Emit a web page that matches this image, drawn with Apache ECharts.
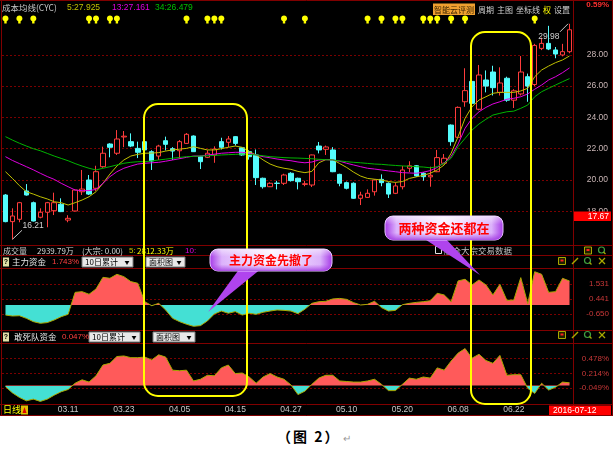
<!DOCTYPE html>
<html>
<head>
<meta charset="utf-8">
<script src="https://cdn.jsdelivr.net/npm/echarts@6/dist/echarts.min.js"></script>
<style>
html,body{margin:0;padding:0;background:#fff;overflow:hidden;}
#chart{position:absolute;left:0;top:0;width:613px;height:416px;}
#cap{position:absolute;left:277px;top:426px;height:16px;line-height:16px;font:bold 14px "Noto Sans CJK SC",sans-serif;color:#000;letter-spacing:2px;white-space:nowrap;}
#cap span{font-weight:normal;color:#999;font-size:10px;margin-left:3px;letter-spacing:0;}
</style>
</head>
<body>
<div id="chart"></div>
<div id="cap">（图 2）<span>↵</span></div>
<script>
// ---------------- data ----------------
const openP  = [19.04,17.34,17.49,19.30,18.55,17.62,17.94,18.04,18.45,17.44, 18.02,19.25,20.00,19.47,20.85,22.30,21.71,22.75,22.45,22.02, 22.45,21.81,21.53,22.51,22.00,21.87,22.34,22.81,21.49,21.45, 21.60,22.45,22.41,22.77,22.06,21.81,21.60,20.11,19.57,19.80, 19.79,20.43,20.11,19.72,19.68,22.17,21.96,21.92,20.36,19.83, 19.79,18.83,18.89,19.25,20.04,19.79,19.15,19.57,20.75,20.91, 20.43,20.20,20.53,21.07,23.51,22.73,25.00,26.30,24.52,26.39, 26.90,25.60,26.50,25.10,25.50,26.60,26.10,28.41,28.73,28.31, 27.99,28.20];
const closeP = [17.34,17.70,18.55,19.04,17.38,17.94,18.55,18.55,17.98,17.55, 19.36,19.42,19.10,20.53,21.71,22.09,22.62,22.80,22.17,21.77, 21.92,21.21,22.17,22.28,21.85,22.45,22.92,21.81,21.17,21.71, 21.98,22.09,22.62,22.34,21.60,21.49,20.15,19.57,19.79,19.78, 20.32,19.96,19.89,19.76,21.60,21.92,22.11,20.53,19.79,19.47, 18.83,19.04,19.15,20.00,19.83,19.10,19.62,20.64,20.91,20.26, 20.21,20.30,21.43,21.39,22.45,24.64,25.71,24.90,26.71,26.00, 25.90,26.20,25.10,25.70,26.90,26.00,28.60,28.73,28.37,28.05, 28.20,29.60];
const lowP   = [17.30,16.21,17.30,19.00,17.35,17.55,16.98,17.76,17.95,17.30, 18.00,19.04,19.04,19.30,20.78,21.45,21.60,22.10,22.10,21.40, 21.85,20.64,21.28,21.89,21.28,21.36,22.30,21.80,20.70,21.40, 21.10,21.95,22.10,22.20,21.55,21.30,19.68,19.45,19.55,19.40, 19.68,19.90,19.40,19.60,19.55,21.70,21.60,20.50,19.60,19.40, 18.80,18.40,18.85,19.00,19.60,18.85,19.10,19.40,20.50,20.20, 19.95,19.57,20.50,21.00,22.19,22.70,24.68,24.70,24.45,25.60, 25.40,25.40,25.00,24.60,25.40,25.00,26.00,28.30,28.30,27.78, 27.90,28.10];
const highP  = [19.10,18.19,18.60,19.74,18.62,18.19,18.60,19.19,18.83,17.75, 19.40,20.64,20.32,20.91,22.13,22.35,23.19,23.13,22.98,22.45, 22.50,21.90,22.25,22.77,22.10,22.55,23.00,22.85,21.55,21.90, 22.15,22.70,22.81,22.80,22.10,21.90,21.95,20.15,19.85,19.95, 20.40,20.50,20.15,19.95,21.62,22.43,22.20,22.10,20.40,19.90, 19.85,19.25,19.40,20.05,20.36,19.85,19.85,20.90,21.20,20.95, 20.50,20.85,21.92,21.66,23.55,24.70,27.14,26.50,27.35,27.00, 27.30,27.20,26.60,25.80,27.92,26.80,28.70,29.10,29.85,28.50, 28.70,29.98];
const cost5  = [20.53,20.10,19.64,19.25,19.10,18.93,18.79,18.61,18.55,18.40, 18.55,18.72,18.93,19.25,19.79,20.38,20.89,21.28,21.53,21.64, 21.71,21.72,21.75,21.85,21.92,21.97,22.02,22.13,22.02,21.92, 21.92,22.00,22.09,22.17,22.09,21.81,21.60,21.28,21.02,20.85, 20.75,20.68,20.55,20.47,20.55,21.10,21.30,21.30,21.05,20.80, 20.50,20.25,20.10,20.05,20.00,19.90,19.85,19.90,20.10,20.20, 20.30,20.43,20.64,20.96,21.71,22.77,23.94,24.68,25.11,25.32, 25.54,25.60,25.60,25.60,25.69,25.86,26.60,27.03,27.28,27.50, 27.67,27.925];
const cost13 = [21.49,21.25,21.05,20.85,20.65,20.43,20.22,20.04,19.79,19.57, 19.36,19.32,19.32,19.40,19.79,20.21,20.53,20.75,20.89,21.02, 21.07,21.10,21.13,21.20,21.28,21.36,21.45,21.53,21.53,21.60, 21.65,21.71,21.74,21.77,21.77,21.71,21.60,21.49,21.42,21.34, 21.28,21.23,21.15,21.10,21.15,21.28,21.30,21.28,21.20,21.07, 20.96,20.85,20.75,20.70,20.64,20.58,20.53,20.47,20.45,20.43, 20.50,20.60,20.80,21.10,21.50,22.30,23.30,23.94,24.36,24.64, 24.86,25.00,25.16,25.22,25.32,25.50,25.80,26.07,26.39,26.60, 26.86,27.161];
const cost34 = [22.77,22.55,22.35,22.17,22.00,21.87,21.70,21.53,21.38,21.23, 21.05,20.89,20.75,20.64,20.75,20.85,20.96,21.07,21.13,21.17, 21.17,21.22,21.28,21.33,21.39,21.44,21.49,21.51,21.53,21.55, 21.57,21.60,21.62,21.64,21.66,21.63,21.60,21.55,21.49,21.46, 21.43,21.41,21.40,21.38,21.36,21.32,21.30,21.28,21.22,21.17, 21.13,21.10,21.06,21.02,21.00,20.96,20.93,20.90,20.88,20.85, 20.83,20.78,20.85,21.07,21.39,22.13,22.66,23.19,23.58,23.88, 24.15,24.26,24.36,24.40,24.58,24.79,25.32,25.64,25.86,26.07, 26.28,26.479];
const mainForce = [-0.73,-0.80,-0.78,-0.97,-1.21,-1.33,-1.28,-1.09,-0.85,-0.68, 0.92,0.97,0.78,1.16,2.01,1.94,2.23,2.06,1.70,1.58, 0.24,-0.05,0.12,-0.36,-0.97,-1.21,-1.40,-1.55,-1.50,-1.16, -0.65,-0.44,-0.60,-0.48,-0.73,-0.60,-0.68,-0.53,-0.44,-0.36, -0.39,-0.44,-0.63,-0.30,0.12,0.24,0.27,0.44,0.48,0.41, 0.17,0.00,0.05,0.27,-0.19,-0.44,-0.39,0.02,0.12,0.19, 0.24,0.31,0.85,0.73,0.24,1.75,1.87,1.46,1.82,1.46, 0.73,1.50,0.34,0.36,1.99,0.10,2.42,2.23,0.92,0.97, 1.94,1.743];
const dareFund = [-0.02,-0.13,-0.21,-0.27,-0.24,-0.28,-0.24,-0.17,-0.11,-0.07, 0.04,0.10,0.06,0.17,0.36,0.39,0.51,0.52,0.49,0.49, 0.50,0.45,0.54,0.50,0.27,0.26,0.27,0.08,0.11,0.18, 0.17,0.31,0.36,0.21,0.22,0.15,0.04,0.15,0.21,0.15, 0.11,0.01,-0.16,-0.10,0.02,0.13,0.18,0.18,0.08,0.07, 0.06,0.06,0.08,0.11,0.02,-0.09,-0.09,0.02,0.13,0.11, 0.15,0.13,0.31,0.27,0.43,0.57,0.65,0.48,0.55,0.44, 0.39,0.53,0.18,0.19,0.19,-0.05,-0.14,0.04,-0.08,-0.03, 0.06,0.047];
const markerBars = [0,2,4,12,13,15,16,26,29,30,31,40,43,52,54,56,57,60,61,62,64,66,76];
const dateTickIdx = [9,17,25,33,41,49,57,65,73];
const dateTickLabels = ['03.11','03.23','04.05','04.15','04.27','05.10','05.20','06.08','06.22'];
const mainForceTicks = [1.531,0.441,-0.650];
const mainForceTickLabels = ['1.531','0.441','-0.650'];
const dareTicks = [0.478,0.214,-0.049];
const dareTickLabels = ['0.478%','0.214%','-0.049%'];
const lowMark = [1,16.21];
const highMark = [81,29.98];
const refPrice = 17.67;

// ---------------- build ----------------
const cats = openP.map((_, i) => String(i));
const candles = openP.map((o, i) => [o, closeP[i], lowP[i], highP[i]]);
const markers = markerBars.map(i => [i, 0.5]);

const L = 2, R = 40;
const GRIDRED = '#7a0000';
const LINERED = '#800000';
const CYAN = '#44e0d4', PINK = '#ff5a5a';
const CJK = '"Noto Sans CJK SC", sans-serif';
const NUM = '"Liberation Sans", sans-serif';
const BULB = 'path://M3,0 C4.7,0 6,1.3 6,3 C6,4.3 5.2,5.2 4.2,5.7 L4.2,8 L1.8,8 L1.8,5.7 C0.8,5.2 0,4.3 0,3 C0,1.3 1.3,0 3,0 Z';

const P1 = {top: 268, height: 63, min: -1.89, max: 2.69};
const P2 = {top: 343, height: 61, min: -0.3256, max: 0.748};
function signFill(p) {
  const f = p.max / (p.max - p.min);
  return {type: 'linear', global: true, x: 0, y: p.top, x2: 0, y2: p.top + p.height, colorStops: [
    {offset: 0, color: PINK}, {offset: f, color: PINK}, {offset: f, color: CYAN}, {offset: 1, color: CYAN}]};
}

const chart = echarts.init(document.getElementById('chart'), null, {renderer: 'canvas'});

const xAxes = [0,1,2,3].map(g => ({
  type: 'category', gridIndex: g, data: cats, boundaryGap: true,
  axisLine: {show: false}, axisTick: {show: false}, splitLine: {show: false},
  axisLabel: {show: false}
}));
xAxes[3].axisLabel = {
  show: true, margin: 1, color: '#c8c8c8', fontSize: 8.5, fontFamily: NUM,
  interval: (i) => dateTickIdx.indexOf(i) >= 0,
  formatter: (v, i) => { const k = dateTickIdx.indexOf(i); return k >= 0 ? dateTickLabels[k] : ''; }
};

const option = {
  backgroundColor: '#000',
  animation: false,
  textStyle: {fontFamily: CJK},
  grid: [
    {left: L, right: R, top: 23.5, height: 219.1},
    {left: L, right: R, top: 14.5, height: 10},
    {left: L, right: R, top: P1.top, height: P1.height},
    {left: L, right: R, top: P2.top, height: P2.height}
  ],
  xAxis: xAxes,
  yAxis: [
    {type: 'value', gridIndex: 0, min: 16, max: 30, interval: 2, position: 'right',
     axisLine: {show: false}, axisTick: {show: false},
     axisLabel: {show: true, align: 'right', margin: 35, color: '#c8b4b4', fontSize: 8.5, fontFamily: NUM,
                 showMinLabel: false, showMaxLabel: false, formatter: v => v.toFixed(2)},
     splitLine: {show: true, showMinLine: false, showMaxLine: false, lineStyle: {color: GRIDRED, type: [2,2], width: 1}}},
    {type: 'value', gridIndex: 1, min: 0, max: 1, show: false},
    {type: 'value', gridIndex: 2, min: P1.min, max: P1.max, show: false, splitLine: {show: false}},
    {type: 'value', gridIndex: 3, min: P2.min, max: P2.max, show: false, splitLine: {show: false}}
  ],
  series: [
    {type: 'candlestick', xAxisIndex: 0, yAxisIndex: 0, data: candles, barWidth: 5, z: 3,
     itemStyle: {color: '#000', color0: '#54fcfc', borderColor: '#ff3c3c', borderColor0: '#54fcfc', borderWidth: 1}},
    {type: 'line', xAxisIndex: 0, yAxisIndex: 0, data: cost5, symbol: 'none', lineStyle: {color: '#c0c000', width: 1}, z: 4},
    {type: 'line', xAxisIndex: 0, yAxisIndex: 0, data: cost13, symbol: 'none', lineStyle: {color: '#e000e0', width: 1}, z: 4},
    {type: 'line', xAxisIndex: 0, yAxisIndex: 0, data: cost34, symbol: 'none', lineStyle: {color: '#00b400', width: 1}, z: 4},
    {type: 'scatter', xAxisIndex: 1, yAxisIndex: 1, data: markers, symbol: BULB, symbolSize: [6, 8],
     itemStyle: {color: '#ffff00', opacity: 1}, z: 4},
    {type: 'line', xAxisIndex: 2, yAxisIndex: 2, data: mainForce, symbol: 'none',
     lineStyle: {color: '#a8a800', width: 1}, areaStyle: {opacity: 1, origin: 'auto', color: signFill(P1)}, z: 3},
    {type: 'line', xAxisIndex: 3, yAxisIndex: 3, data: dareFund, symbol: 'none',
     lineStyle: {color: '#a8a800', width: 1}, areaStyle: {opacity: 1, origin: 'auto', color: signFill(P2)}, z: 3}
  ]
};
chart.setOption(option);

// ---------------- decorations ----------------
const G = [];
function T(x, y, text, fill, font, align, z, extra) {
  G.push({type: 'text', x: x, y: y, z: z || 60, silent: true,
    style: Object.assign({text: text, fill: fill, font: font, textAlign: align || 'left', textVerticalAlign: 'middle'}, extra || {})});
}
function H(y, x1, x2, c) { G.push({type: 'line', z: 40, silent: true, shape: {x1: x1, y1: y, x2: x2, y2: y}, style: {stroke: c || LINERED, lineWidth: 1}}); }
function V(x, y1, y2, c) { G.push({type: 'line', z: 40, silent: true, shape: {x1: x, y1: y1, x2: x, y2: y2}, style: {stroke: c || LINERED, lineWidth: 1}}); }
function RC(x, y, w, h, fill, stroke, z, r) { G.push({type: 'rect', z: z || 55, silent: true, shape: {x: x, y: y, width: w, height: h, r: r || 0}, style: {fill: fill, stroke: stroke || null, lineWidth: 1}}); }
function guide(y) { G.push({type: 'line', z: -1, silent: true, shape: {x1: 2, y1: y, x2: 573, y2: y}, style: {stroke: GRIDRED, lineWidth: 1, lineDash: [2, 2]}}); }

// frame / separators
[0.5, 245.5, 255.5, 268.5, 330.5, 343.5, 404.5, 415.5].forEach(y => H(y, 0, 613));
V(1.5, 0, 416); V(573.5, 0, 416); V(612.5, 0, 416);

// header row
T(2, 8, '成本均线(CYC)', '#c8c8c8', '8.5px ' + CJK);
T(67, 8, '5:27.925', '#c0c000', '8.5px ' + NUM);
T(112, 8, '13:27.161', '#e000e0', '8.5px ' + NUM);
T(155, 8, '34:26.479', '#00c000', '8.5px ' + NUM);
RC(433, 3.5, 42, 11.5, '#f0a030', null, 55);
T(454, 9.5, '智能云评测', '#3a2400', '8px ' + CJK, 'center');
T(478, 9.5, '周期', '#d0d0d0', '8px ' + CJK);
T(497, 9.5, '主图', '#d0d0d0', '8px ' + CJK);
T(516, 9.5, '坐标线', '#d0d0d0', '8px ' + CJK);
T(543, 9.5, '权', '#ffff00', '8px ' + CJK);
T(554, 9.5, '设置', '#d0d0d0', '8px ' + CJK);
T(609, 5, '0.59%', '#ff3030', 'bold 8px ' + NUM, 'right');

// volume header row
T(3, 250.5, '成交量', '#c8c8c8', '8px ' + CJK);
T(37, 250.5, '2939.79万', '#d8d8d8', '8px ' + CJK);
T(82, 250.5, '(大宗: 0.00)', '#d8d8d8', '8px ' + CJK);
T(129, 250.5, '5:', '#c0c000', '8px ' + NUM);
T(137, 250.5, '2812.33万', '#ffff00', '8px ' + CJK);
T(185, 250.5, '10:', '#e000e0', '8px ' + NUM);
RC(435.5, 246.5, 6, 7, '#000', '#e0e0e0', 55);
T(444, 250.5, '融合大宗交易数据', '#c0c0c0', '8.5px ' + CJK);

// indicator header rows
function indicatorRow(y, name, val, nameX, valX, d1x, d1w, d2x, d2w) {
  RC(3, y - 4.5, 6, 9, '#e0e0a8', null, 55);
  T(6, y, '?', '#000', 'bold 7px ' + NUM, 'center');
  T(nameX, y, name, '#e8e8e8', '8.5px ' + CJK);
  T(valX, y, val, '#ff4040', '8px ' + NUM);
  RC(d1x, y - 5, d1w, 10, '#e8e8e8', '#7a7a7a', 55);
  T(d1x + 3, y, '10日累计', '#000', '8px ' + CJK);
  T(d1x + d1w - 6, y, '▼', '#000', '5px ' + CJK, 'center');
  RC(d2x, y - 5, d2w, 10, '#e8e8e8', '#7a7a7a', 55);
  T(d2x + 3, y, '面积图', '#000', '8px ' + CJK);
  T(d2x + d2w - 6, y, '▼', '#000', '5px ' + CJK, 'center');
}
indicatorRow(262, '主力资金', '1.743%', 12, 52, 82, 51, 146, 39);
indicatorRow(337, '敢死队资金', '0.047%', 14, 62, 89, 51, 153, 42);

// small tool icons on the right
function icon(type, cx, cy) {
  const c = '#a8a800';
  if (type === 0) { RC(cx - 3.5, cy - 3.5, 7, 7, '#202000', c, 56); RC(cx - 1.5, cy - 1.5, 3, 2, '#ff2020', null, 57); }
  if (type === 1) { G.push({type: 'line', z: 56, shape: {x1: cx - 3, y1: cy + 3, x2: cx + 3, y2: cy - 3}, style: {stroke: c, lineWidth: 1.5}}); }
  if (type === 2) { G.push({type: 'circle', z: 56, shape: {cx: cx - 0.5, cy: cy - 0.5, r: 3}, style: {fill: 'none', stroke: '#40a040', lineWidth: 1.2}});
                    G.push({type: 'line', z: 56, shape: {x1: cx + 1.5, y1: cy + 1.5, x2: cx + 3.5, y2: cy + 3.5}, style: {stroke: c, lineWidth: 1.2}}); }
  if (type === 3) { G.push({type: 'line', z: 56, shape: {x1: cx - 3, y1: cy - 3, x2: cx + 3, y2: cy + 3}, style: {stroke: c, lineWidth: 1.2}});
                    G.push({type: 'line', z: 56, shape: {x1: cx - 3, y1: cy + 3, x2: cx + 3, y2: cy - 3}, style: {stroke: c, lineWidth: 1.2}}); }
}
icon(0, 588, 250.5); icon(2, 602, 250.5);
[261, 335].forEach(y => { icon(0, 562, y); icon(1, 575, y); icon(2, 588, y); icon(3, 602, y); });

// bottom row
T(3, 410, '日线', '#ffff00', '9px ' + CJK);
RC(21, 405.5, 7, 9, '#e0c000', null, 55);
G.push({type: 'polygon', z: 56, shape: {points: [[24.5, 407], [22.5, 413], [26.5, 413]]}, style: {fill: '#e00000'}});
RC(549, 405.5, 62, 9.5, '#ff0000', null, 55);
T(553, 410.2, '2016-07-12', '#ffffff', '8.5px ' + NUM);
H(408.5, 600, 608, '#ffffff'); H(412.5, 600, 608, '#ffffff');

// data-anchored labels
const pLow = chart.convertToPixel({gridIndex: 0}, lowMark);
G.push({type: 'line', z: 50, shape: {x1: pLow[0], y1: pLow[1], x2: pLow[0] + 9.5, y2: pLow[1] - 9}, style: {stroke: '#c8c8c8', lineWidth: 1}});
T(pLow[0] + 10, pLow[1] - 14, '16.21', '#d0d0d0', '8.5px ' + NUM);
const pHigh = chart.convertToPixel({gridIndex: 0}, highMark);
G.push({type: 'line', z: 50, shape: {x1: pHigh[0] - 1.5, y1: pHigh[1], x2: pHigh[0] - 9.5, y2: pHigh[1] + 8}, style: {stroke: '#c8c8c8', lineWidth: 1}});
T(pHigh[0] - 10, pHigh[1] + 13, '29.98', '#d0d0d0', '8.5px ' + NUM, 'right');
const pRef = chart.convertToPixel({gridIndex: 0}, [0, refPrice]);
RC(574, pRef[1] - 5, 37, 9.5, '#ff0000', null, 55);
T(609, pRef[1] - 0.2, '17.67', '#ffffff', '8.5px ' + NUM, 'right');
mainForceTicks.forEach((v, k) => { const p = chart.convertToPixel({gridIndex: 2}, [0, v]); guide(Math.round(p[1]) + 0.5); T(609, p[1], mainForceTickLabels[k], '#c83838', '8px ' + NUM, 'right'); });
dareTicks.forEach((v, k) => { const p = chart.convertToPixel({gridIndex: 3}, [0, v]); guide(Math.round(p[1]) + 0.5); T(609, p[1], dareTickLabels[k], '#c83838', '8px ' + NUM, 'right'); });

// yellow highlight frames
G.push({type: 'rect', z: 100, silent: true, shape: {x: 144, y: 104, width: 103, height: 292, r: 14}, style: {fill: 'none', stroke: '#ffff00', lineWidth: 2}});
G.push({type: 'rect', z: 100, silent: true, shape: {x: 471, y: 32, width: 60, height: 372, r: 14}, style: {fill: 'none', stroke: '#ffff00', lineWidth: 2}});

// callouts
function callout(bx, by, bw, bh, tail, text, fs) {
  G.push({type: 'polygon', z: 120, silent: true, shape: {points: tail}, style: {fill: '#b044ee'}});
  G.push({type: 'rect', z: 121, silent: true, shape: {x: bx, y: by, width: bw, height: bh, r: 8},
    style: {fill: {type: 'linear', x: 0, y: 0, x2: 1, y2: 0, colorStops: [
      {offset: 0, color: '#a436e6'}, {offset: 0.1, color: '#dcb2fb'}, {offset: 0.5, color: '#fbf3ff'},
      {offset: 0.9, color: '#dcb2fb'}, {offset: 1, color: '#a436e6'}]}, stroke: '#e6c6ff', lineWidth: 1}});
  G.push({type: 'rect', z: 122, silent: true, shape: {x: bx, y: by, width: bw, height: bh, r: 8},
    style: {fill: {type: 'linear', x: 0, y: 0, x2: 0, y2: 1, colorStops: [
      {offset: 0, color: 'rgba(255,255,255,0.5)'}, {offset: 0.35, color: 'rgba(255,255,255,0)'},
      {offset: 0.7, color: 'rgba(170,60,230,0)'}, {offset: 1, color: 'rgba(150,40,220,0.75)'}]}}});
  T(bx + bw / 2, by + bh / 2 + 0.5, text, '#ff0000', 'bold ' + fs + 'px ' + CJK, 'center', 123);
}
callout(210, 249, 122, 22, [[240, 268], [262, 268], [208, 312]], '主力资金先撤了', 12);
callout(385, 216, 118, 24, [[423, 238], [445, 238], [480, 275]], '两种资金还都在', 13);

chart.setOption({graphic: {elements: G}});
</script>
</body>
</html>
